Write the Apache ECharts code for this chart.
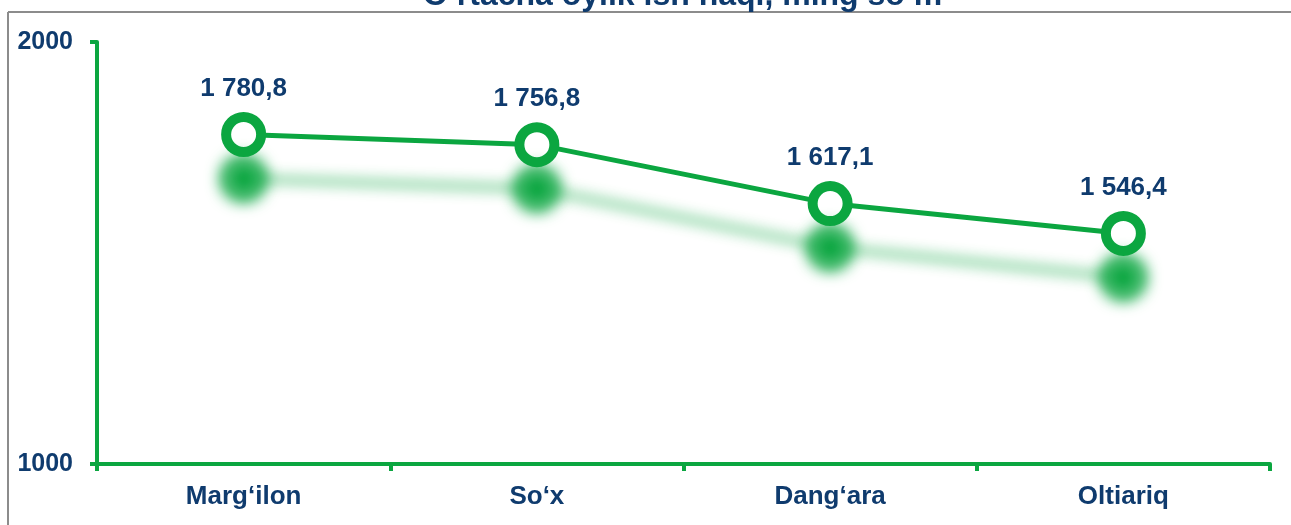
<!DOCTYPE html>
<html>
<head>
<meta charset="utf-8">
<style>
  html, body { margin: 0; padding: 0; background: #fff; }
  #chart { width: 1291px; height: 525px; }
</style>
<script src="https://cdn.jsdelivr.net/npm/echarts@6/dist/echarts.min.js"></script>
</head>
<body>
<div id="chart"></div>
<script>
const titleText = 'O‘rtacha oylik ish haqi, ming so‘m';
const categories = ['Marg‘ilon', 'So‘x', 'Dang‘ara', 'Oltiariq'];
const salary = [1780.8, 1756.8, 1617.1, 1546.4];

const green = '#0ba640';
const navy = '#0f3b6e';
const font = '"Liberation Sans", Arial, sans-serif';

const chart = echarts.init(document.getElementById('chart'), null, { renderer: 'canvas' });

// numbers like "1 780,8"
const fmt = v => {
  const [i, d] = v.toFixed(1).split('.');
  return i.replace(/\B(?=(\d{3})+(?!\d))/g, ' ') + ',' + d;
};

chart.setOption({
  backgroundColor: '#fff',
  animation: false,
  title: {
    text: titleText,
    left: 418,
    top: -25,
    textStyle: { fontFamily: font, fontSize: 32, fontWeight: 'bold', color: navy },
  },
  graphic: [
    { type: 'line', shape: { x1: 8, y1: 12, x2: 1291, y2: 12 }, style: { stroke: '#8c8c8c', lineWidth: 2 } },
    { type: 'line', shape: { x1: 8, y1: 12, x2: 8, y2: 525 }, style: { stroke: '#8c8c8c', lineWidth: 2 } },
  ],
  grid: { left: 97, right: 21, top: 42, bottom: 61, containLabel: false },
  xAxis: {
    type: 'category',
    data: categories,
    boundaryGap: true,
    axisLine: { lineStyle: { color: green, width: 4 } },
    axisTick: { show: true, length: 7, lineStyle: { color: green, width: 4 } },
    axisLabel: { margin: 20, fontFamily: font, fontSize: 26, fontWeight: 'bold', color: navy },
  },
  yAxis: {
    type: 'value',
    min: 1000,
    max: 2000,
    interval: 1000,
    axisLine: { show: true, lineStyle: { color: green, width: 4 } },
    axisTick: { show: true, length: 7, lineStyle: { color: green, width: 4 } },
    axisLabel: {
      margin: 24, fontFamily: font, fontSize: 25, fontWeight: 'bold', color: navy,
      formatter: v => String(v),
    },
    splitLine: { show: false },
  },
  series: [{
    type: 'line',
    data: salary,
    symbol: 'circle',
    symbolSize: 35,
    lineStyle: {
      color: green, width: 5,
      shadowColor: 'rgba(11,166,64,0.8)', shadowBlur: 14, shadowOffsetY: 44,
    },
    itemStyle: {
      color: '#fff', borderColor: green, borderWidth: 10,
      shadowColor: 'rgba(11,166,64,1)', shadowBlur: 16, shadowOffsetY: 44,
    },
    label: {
      show: true,
      position: 'top',
      distance: 10,
      formatter: p => fmt(p.value),
      fontFamily: font, fontSize: 26, fontWeight: 'bold', color: navy,
    },
  }],
});
</script>
</body>
</html>
